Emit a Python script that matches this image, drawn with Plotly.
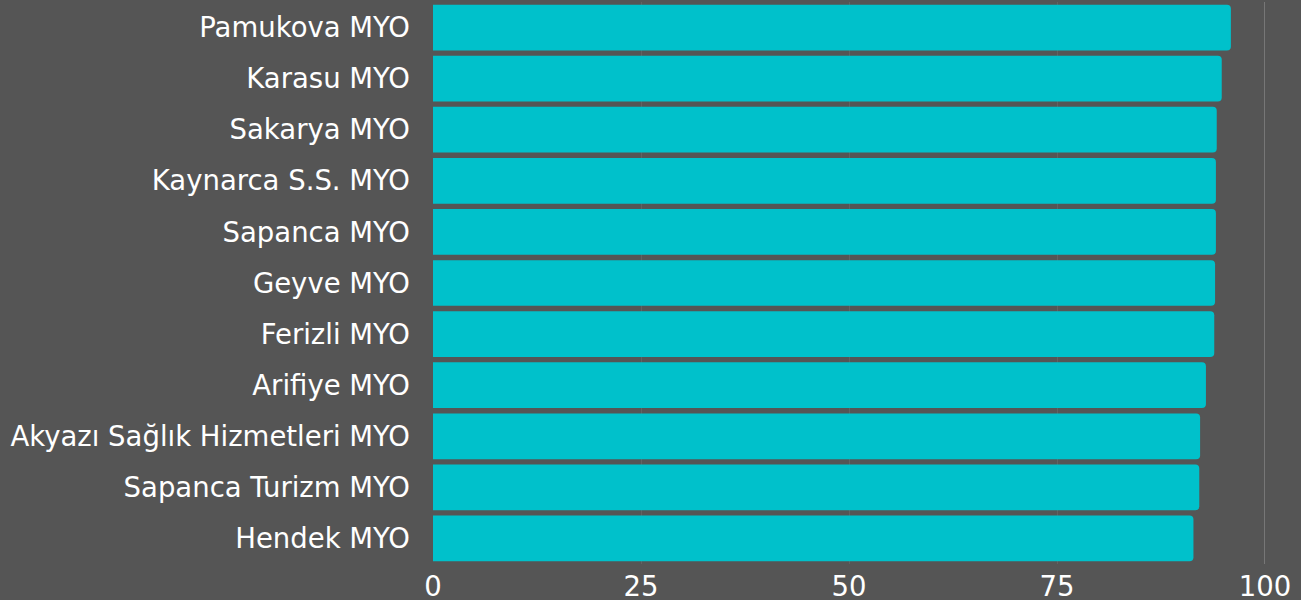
import plotly.graph_objects as go

categories = ["Pamukova MYO", "Karasu MYO", "Sakarya MYO", "Kaynarca S.S. MYO",
              "Sapanca MYO", "Geyve MYO", "Ferizli MYO", "Arifiye MYO",
              "Akyazı Sağlık Hizmetleri MYO", "Sapanca Turizm MYO", "Hendek MYO"]
values = [95.9, 94.8, 94.2, 94.1, 94.1, 94.0, 93.9, 92.9, 92.2, 92.1, 91.4]
tick_vals = [0, 25, 50, 75, 100]
tick_text = ["0", "25", "50", "75", "100"]

BG = "#555555"
BAR = "#00C1CB"
FONT = "DejaVu Sans"
FSIZE = 27.5

fig = go.Figure(go.Bar(
    x=values, y=categories, orientation="h",
    marker=dict(color=BAR, line=dict(width=0)),
    hoverinfo="x+y",
))

fig.update_layout(
    width=1301, height=600,
    paper_bgcolor=BG, plot_bgcolor=BG,
    margin=dict(l=433, r=36, t=2, b=36),
    bargap=0.105,
    barcornerradius=4,
    showlegend=False,
    font=dict(family=FONT, color="white", size=FSIZE),
)
fig.update_xaxes(range=[0, 100], tickvals=tick_vals, ticktext=tick_text,
                 showgrid=True, gridcolor="#636363", gridwidth=1,
                 zeroline=False, showline=False, ticklabelstandoff=3,
                 automargin=False,
                 tickfont=dict(family=FONT, size=FSIZE, color="white"))
fig.update_yaxes(autorange="reversed", showgrid=False, zeroline=False,
                 ticks="", ticklabelstandoff=22, automargin=False,
                 tickfont=dict(family=FONT, size=FSIZE, color="white"))
fig.add_shape(type="line", xref="x", yref="paper", x0=tick_vals[-1], x1=tick_vals[-1],
              y0=0, y1=1, line=dict(color="#9a9a9a", width=1), layer="below")

fig.write_html("out.html", config={"displayModeBar": False},
               post_script="document.body.style.margin='0';document.body.style.background='%s';" % BG)
